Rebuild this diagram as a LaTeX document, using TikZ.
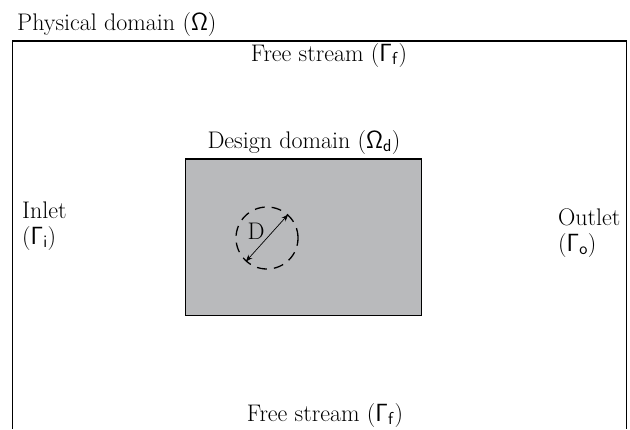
\documentclass[tikz,border=0pt]{standalone}
\usepackage{amsmath, amssymb}
\usepackage{xcolor}
\usepackage{tikz}
\usetikzlibrary{arrows.meta, positioning}
\definecolor{designgray}{RGB}{185,186,188}
\newcommand{\Gf}{\mathsf{\Gamma}_{\mathsf{f}}}
\newcommand{\Gi}{\mathsf{\Gamma}_{\mathsf{i}}}
\newcommand{\Go}{\mathsf{\Gamma}_{\mathsf{o}}}
\newcommand{\Od}{\mathsf{\Omega}_{\mathsf{d}}}

\begin{document}
\begin{tikzpicture}[x=1pt, y=-1pt, every node/.style={font=\fontsize{24}{26}\selectfont, inner sep=0pt}]
  \useasboundingbox (0,0) rectangle (630,429);
  % --- physical domain (open at the bottom) ------------------------
  \draw[line width=1.3pt] (12.5,429) -- (12.5,41) -- (626.5,41) -- (626.5,429);
  \node[anchor=base west] (phys) at (17,30) {Physical domain ($\mathsf{\Omega}$)};
  % --- boundaries --------------------------------------------------
  \node[anchor=base] (fstop) at (329,61) {Free stream ($\Gf$)};
  \node[anchor=base] (fsbot) at (325,421) {Free stream ($\Gf$)};
  \node[anchor=base west, align=left] (inlet) at (22,244) {Inlet\\($\Gi$)};
  \node[anchor=base west, align=left] (outlet) at (558,251) {Outlet\\($\Go$)};
  % --- design domain -----------------------------------------------
  \fill[designgray] (185.5,159) rectangle (421.5,315.5);
  \draw[line width=1.3pt] (185.5,159) rectangle (421.5,315.5);
  \node[anchor=base] (design) at (304,148) {Design domain ($\Od$)};
  % --- cylinder ------------------------------------------------------
  \node[circle, draw, line width=1.3pt, dash pattern=on 10pt off 7pt,
        minimum size=62pt] (cyl) at (267,238) {};
  \draw[{Stealth[length=7pt]}-{Stealth[length=7pt]}, line width=0.7pt] (cyl.228) -- (cyl.48);
  \node (dlabel) at (256,231) {D};
\end{tikzpicture}
\end{document}
